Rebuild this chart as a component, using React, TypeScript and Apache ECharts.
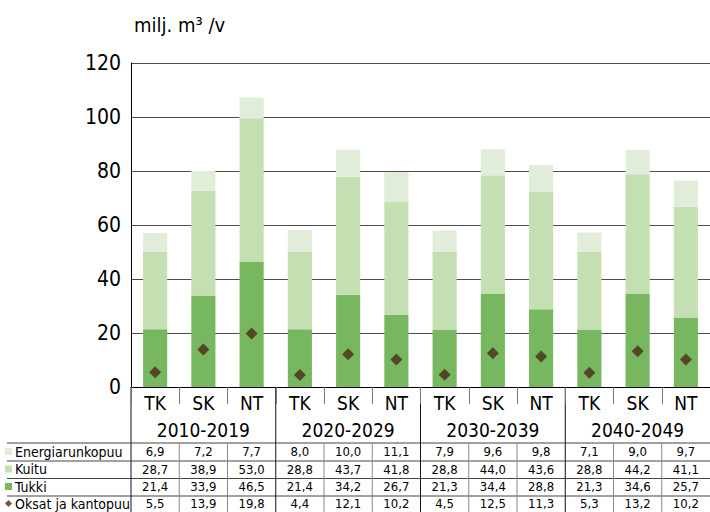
import React, { useEffect, useRef } from "react";
import * as echarts from "echarts";

const groups = ["2010-2019", "2020-2029", "2030-2039", "2040-2049"];
const subCats = ["TK", "SK", "NT"];
const seriesNames = ["Energiarunkopuu", "Kuitu", "Tukki", "Oksat ja kantopuu"];
const energia = [6.9, 7.2, 7.7, 8.0, 10.0, 11.1, 7.9, 9.6, 9.8, 7.1, 9.0, 9.7];
const kuitu = [28.7, 38.9, 53.0, 28.8, 43.7, 41.8, 28.8, 44.0, 43.6, 28.8, 44.2, 41.1];
const tukki = [21.4, 33.9, 46.5, 21.4, 34.2, 26.7, 21.3, 34.4, 28.8, 21.3, 34.6, 25.7];
const oksat = [5.5, 13.9, 19.8, 4.4, 12.1, 10.2, 4.5, 12.5, 11.3, 5.3, 13.2, 10.2];
const yMin = 0;
const yMax = 120;
const yStep = 20;
const title = "milj. m³ /v";

const FONT = "'Liberation Sans Narrow', 'DejaVu Sans Condensed', 'Open Sans', sans-serif";
const colors = ["#e2edd9", "#c4dfb1", "#77b75f", "#4a2a1a"];

export default function App() {
  const ref = useRef<HTMLDivElement>(null);
  useEffect(() => {
    if (!ref.current) return;
    const chart = echarts.init(ref.current, null, { renderer: "svg" });
    const W = 710;
    const gridLeft = 131;
    const gridTop = 63;
    const gridBottomY = 387;
    const plotW = W - gridLeft;
    const cats = groups.flatMap(() => subCats);
    const catW = plotW / cats.length;
    const fmt = (v: number) => v.toFixed(1).replace(".", ",");
    const rows = [energia, kuitu, tukki, oksat];
    const rowCenters = [452, 469.5, 487, 504];
    const rowLines = [443, 461, 478.5, 496];

    const graphics: any[] = [];
    rowLines.forEach((y) => {
      graphics.push({
        type: "line",
        shape: { x1: 7, y1: y, x2: W, y2: y },
        style: { stroke: "#444", lineWidth: 1 },
        silent: true,
      });
    });
    for (let k = 0; k < cats.length; k++) {
      const x = gridLeft + k * catW;
      const isGroup = k % 3 === 0;
      graphics.push({
        type: "line",
        shape: { x1: x, y1: isGroup ? gridBottomY : rowLines[0], x2: x, y2: 512 },
        style: { stroke: isGroup ? "#111" : "#888", lineWidth: 1 },
        silent: true,
      });
    }

    const tableAxes = rows.map((vals, i) => ({
      type: "category",
      data: vals.map(fmt),
      position: "bottom",
      axisLine: { show: false },
      axisTick: { show: false },
      axisLabel: {
        fontFamily: FONT,
        fontSize: 13,
        color: "#000",
        margin: rowCenters[i] - gridBottomY - 7,
        interval: 0,
      },
    }));

    chart.setOption({
      animation: false,
      title: {
        text: title,
        left: 129,
        top: 10,
        textStyle: { fontFamily: FONT, fontSize: 20, fontWeight: "normal", color: "#000" },
      },
      grid: { left: gridLeft, right: 0, top: gridTop, bottom: 512 - gridBottomY, containLabel: false },
      legend: seriesNames.map((n, i) => ({
        data: [{ name: n, icon: i === 3 ? "diamond" : "rect" }],
        left: 5,
        top: rowCenters[i] - 7.5,
        itemWidth: 7,
        itemHeight: 7,
        selectedMode: false,
        textStyle: { fontFamily: FONT, fontSize: 14, color: "#000", padding: [0, 0, 0, -2] },
        padding: 0,
      })),
      yAxis: {
        type: "value",
        min: yMin,
        max: yMax,
        interval: yStep,
        axisLine: { show: true, lineStyle: { color: "#000", width: 1 } },
        axisTick: { show: false },
        splitLine: { show: true, lineStyle: { color: "#4d4d4d", width: 1 } },
        axisLabel: { fontFamily: FONT, fontSize: 21, color: "#000", margin: 10 },
      },
      xAxis: [
        {
          type: "category",
          data: cats,
          axisLine: { show: true, lineStyle: { color: "#000", width: 1 } },
          axisTick: { show: true, length: 17, lineStyle: { color: "#777" } },
          axisLabel: { fontFamily: FONT, fontSize: 19, color: "#000", margin: 6, interval: 0 },
        },
        {
          type: "category",
          data: groups,
          position: "bottom",
          axisLine: { show: false },
          axisTick: { show: false },
          axisLabel: { fontFamily: FONT, fontSize: 19, color: "#000", margin: 33, interval: 0 },
        },
        ...tableAxes,
      ],
      series: [
        { name: "Tukki", type: "bar", stack: "a", data: tukki, barWidth: "50%", itemStyle: { color: colors[2] } },
        { name: "Kuitu", type: "bar", stack: "a", data: kuitu, barWidth: "50%", itemStyle: { color: colors[1] } },
        { name: "Energiarunkopuu", type: "bar", stack: "a", data: energia, barWidth: "50%", itemStyle: { color: colors[0] } },
        {
          name: "Oksat ja kantopuu",
          type: "scatter",
          data: oksat,
          symbol: "diamond",
          symbolSize: 12,
          itemStyle: { color: colors[3] },
          z: 5,
        },
      ],
      graphic: graphics,
    });
    return () => chart.dispose();
  }, []);
  return (
    <div
      ref={ref}
      style={{ position: "fixed", left: 0, top: 0, width: 710, height: 512, background: "#fff" }}
    />
  );
}
